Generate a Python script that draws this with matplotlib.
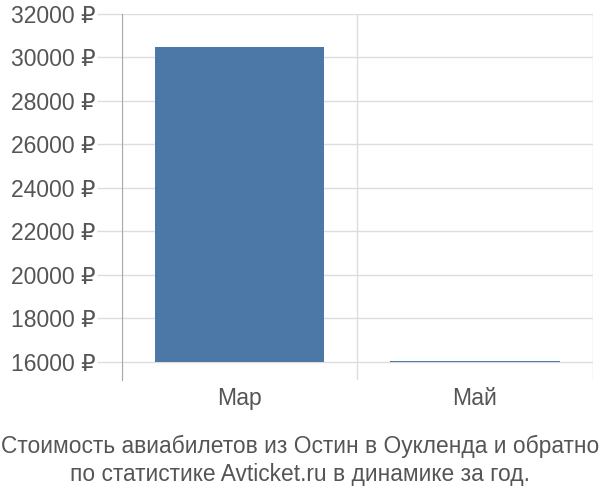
import matplotlib
matplotlib.use("Agg")
import matplotlib.pyplot as plt
import numpy as np

plt.rcParams['font.family'] = ['Liberation Sans', 'DejaVu Sans']

months = ["Мар", "Май"]
prices = [30480, 16040]
yticks = list(range(16000, 32001, 2000))
caption = ("Стоимость авиабилетов из Остин в Оукленда и обратно\n"
           "по статистике Avticket.ru в динамике за год.")

fig = plt.figure(figsize=(6, 5), dpi=100)
ax = fig.add_axes([0.203, 0.24, 0.785, 0.732])

x = np.arange(len(months))
base = 16000
ax.bar(x, [p - base for p in prices], bottom=base, width=0.72,
       color="#4c78a8", zorder=3)

ax.set_xlim(-0.5, len(months) - 0.5)
ax.set_ylim(15172, 32000)
ax.set_yticks(yticks)
ax.set_yticklabels([f"{t} ₽" for t in yticks])
ax.set_xticks(x)
ax.set_xticklabels(months)

# horizontal grid + category separators
ax.grid(axis="y", color="#dddddd", linewidth=1, zorder=0)
ax.set_xticks([-0.5, 0.5, 1.5], minor=True)
ax.grid(axis="x", which="minor", color="#dddddd", linewidth=1, zorder=0)
ax.tick_params(axis="x", which="both", length=0, pad=5,
               labelsize=16.5, labelcolor="#555555")
ax.tick_params(axis="y", length=18, color="#dddddd", width=1, pad=1,
               labelsize=16.5, labelcolor="#555555")

for s in ["top", "right", "bottom"]:
    ax.spines[s].set_visible(False)
ax.spines["left"].set_color("#aaaaaa")

fig.text(0.5, 0.079, caption, ha="center", va="center", fontsize=16.4,
         color="#555555", linespacing=1.3)

fig.savefig("out.png", dpi=100)
